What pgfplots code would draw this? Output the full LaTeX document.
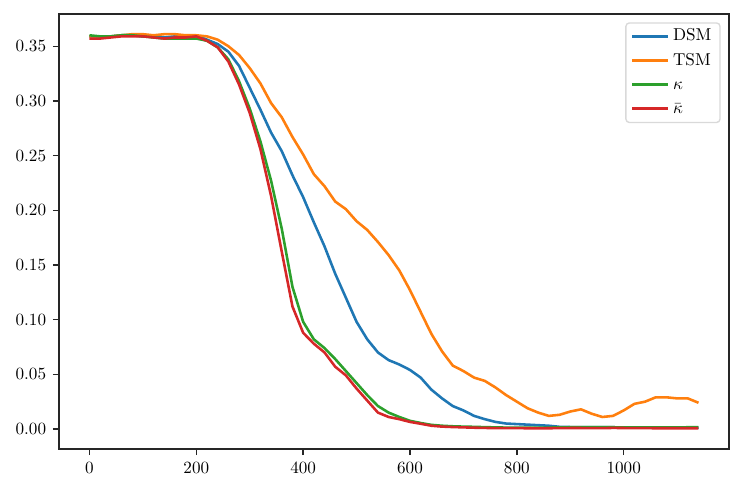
\documentclass[border=0pt]{standalone}
\usepackage{pgfplots}
\pgfplotsset{compat=1.18}
\definecolor{tabblue}{HTML}{1F77B4}
\definecolor{taborange}{HTML}{FF7F0E}
\definecolor{tabgreen}{HTML}{2CA02C}
\definecolor{tabred}{HTML}{D62728}
\definecolor{spine}{HTML}{262626}

\begin{document}
\begin{tikzpicture}[font=\fontsize{10}{12}\selectfont]
\begin{axis}[
  scale only axis,
  width=390.6pt,
  height=253.6pt,
  xmin=-57, xmax=1197,
  ymin=-0.0183, ymax=0.3794,
  xtick={0,200,400,600,800,1000},
  ytick={0,0.05,0.10,0.15,0.20,0.25,0.30,0.35},
  xticklabel style={/pgf/number format/1000 sep={}, yshift=-0.5pt},
  yticklabel style={/pgf/number format/fixed, /pgf/number format/fixed zerofill,
    /pgf/number format/precision=2, xshift=-0.5pt},
  scaled y ticks=false,
  tick align=outside,
  xtick pos=bottom,
  ytick pos=left,
  major tick length=3.5pt,
  every tick/.style={spine,line width=0.8pt},
  axis line style={spine,line width=0.8pt},
  tick label style={font=\fontsize{10}{12}\selectfont},
  legend cell align=left,
  legend image code/.code={\draw[#1] (0pt,0pt) -- (21pt,0pt);},
  legend style={at={(1,1)}, xshift=-4.8pt, yshift=-4.8pt, anchor=north east,
    draw=black!15, line width=0.8pt, rounded corners=2pt,
    fill=white, fill opacity=0.8, text opacity=1,
    inner xsep=3pt, inner ysep=1.5pt, row sep=1pt,
    nodes={inner ysep=2pt, text height=7pt, text depth=2pt},
    font=\fontsize{10}{12}\selectfont},
  every axis plot/.append style={line width=1.5pt, line join=round},
]
\addplot[color=tabblue] coordinates {
(0,0.359) (20,0.359) (40,0.359) (60,0.360) (80,0.360) (100,0.359) (120,0.359) (140,0.358)
(160,0.359) (180,0.359) (200,0.360) (220,0.356) (240,0.352) (260,0.345) (280,0.332) (300,0.312)
(320,0.292) (340,0.271) (360,0.254) (380,0.232) (400,0.212) (420,0.189) (440,0.167) (460,0.142)
(480,0.120) (500,0.098) (520,0.082) (540,0.070) (560,0.063) (580,0.059) (600,0.054) (620,0.047)
(640,0.036) (660,0.028) (680,0.021) (700,0.017) (720,0.012) (740,0.009) (760,0.0065) (780,0.005)
(800,0.0045) (820,0.004) (840,0.0035) (860,0.003) (880,0.002) (900,0.0018) (920,0.0018) (940,0.0018)
(960,0.0018) (980,0.0016) (1000,0.0015) (1020,0.0015) (1040,0.0015) (1060,0.0014) (1080,0.0012)
(1100,0.0012) (1120,0.0013) (1140,0.0014)};
\addlegendentry{DSM}
\addplot[color=taborange] coordinates {
(0,0.359) (20,0.359) (40,0.359) (60,0.360) (80,0.361) (100,0.361) (120,0.360) (140,0.361)
(160,0.361) (180,0.360) (200,0.360) (220,0.359) (240,0.356) (260,0.350) (280,0.342) (300,0.330)
(320,0.316) (340,0.298) (360,0.285) (380,0.267) (400,0.251) (420,0.233) (440,0.222) (460,0.208)
(480,0.201) (500,0.190) (520,0.182) (540,0.171) (560,0.159) (580,0.145) (600,0.127) (620,0.107)
(640,0.087) (660,0.071) (680,0.058) (700,0.053) (720,0.047) (740,0.044) (760,0.038) (780,0.031)
(800,0.025) (820,0.019) (840,0.015) (860,0.012) (880,0.013) (900,0.016) (920,0.018) (940,0.014)
(960,0.011) (980,0.012) (1000,0.017) (1020,0.023) (1040,0.025) (1060,0.029) (1080,0.029)
(1100,0.028) (1120,0.028) (1140,0.024)};
\addlegendentry{TSM}
\addplot[color=tabgreen] coordinates {
(0,0.360) (20,0.359) (40,0.359) (60,0.360) (80,0.360) (100,0.359) (120,0.358) (140,0.357)
(160,0.357) (180,0.357) (200,0.357) (220,0.355) (240,0.349) (260,0.338) (280,0.318) (300,0.293)
(320,0.263) (340,0.227) (360,0.183) (380,0.130) (400,0.098) (420,0.082) (440,0.074) (460,0.064)
(480,0.053) (500,0.042) (520,0.031) (540,0.021) (560,0.015) (580,0.011) (600,0.0075) (620,0.0055)
(640,0.0038) (660,0.003) (680,0.0025) (700,0.0022) (720,0.002) (740,0.0017) (760,0.0015) (780,0.0013)
(800,0.0012) (820,0.0012) (840,0.0012) (860,0.0013) (880,0.0015) (900,0.0016) (920,0.0016) (940,0.0017)
(960,0.0017) (980,0.0016) (1000,0.0015) (1020,0.0015) (1040,0.0014) (1060,0.0014) (1080,0.0014)
(1100,0.0015) (1120,0.0016) (1140,0.0017)};
\addlegendentry{$\kappa$}
\addplot[color=tabred] coordinates {
(0,0.357) (20,0.357) (40,0.358) (60,0.359) (80,0.359) (100,0.359) (120,0.358) (140,0.357)
(160,0.358) (180,0.358) (200,0.359) (220,0.355) (240,0.349) (260,0.336) (280,0.315) (300,0.289)
(320,0.256) (340,0.213) (360,0.162) (380,0.112) (400,0.088) (420,0.078) (440,0.070) (460,0.057)
(480,0.049) (500,0.037) (520,0.026) (540,0.015) (560,0.011) (580,0.009) (600,0.0065) (620,0.0048)
(640,0.003) (660,0.0022) (680,0.0018) (700,0.0015) (720,0.0012) (740,0.001) (760,0.0008) (780,0.0008)
(800,0.0008) (820,0.0007) (840,0.0006) (860,0.0007) (880,0.0008) (900,0.0009) (920,0.0009) (940,0.0008)
(960,0.0008) (980,0.001) (1000,0.0009) (1020,0.0008) (1040,0.0008) (1060,0.0007) (1080,0.0007)
(1100,0.0007) (1120,0.0007) (1140,0.0007)};
\addlegendentry{$\bar{\kappa}$}
\end{axis}
\path ([shift={(-34.4pt,-25.7pt)}]current axis.south west)
  rectangle ([shift={(8.2pt,8.2pt)}]current axis.north east);
\end{tikzpicture}
\end{document}
